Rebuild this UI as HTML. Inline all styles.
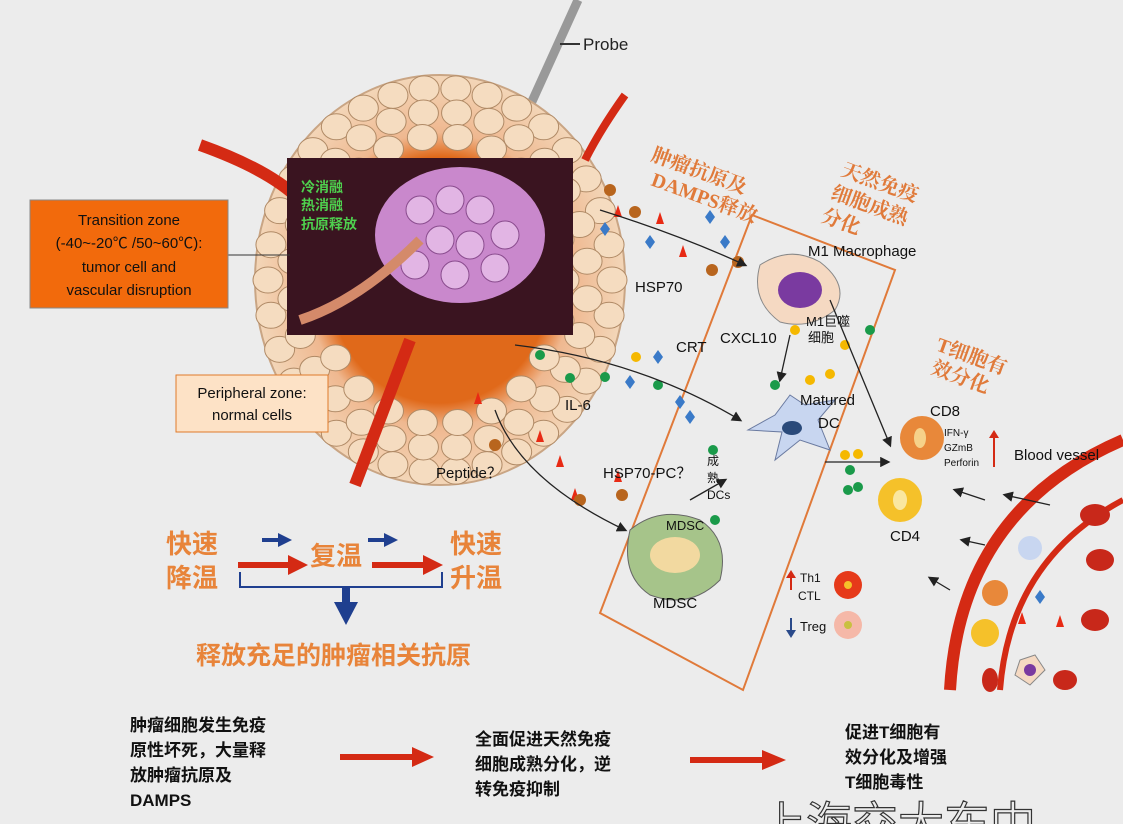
<!DOCTYPE html>
<html><head><meta charset="utf-8"><style>
body{margin:0;background:#ececec;}
svg{display:block;font-family:"Liberation Sans","Noto Sans CJK SC",sans-serif;}
</style></head><body>
<svg id="s" width="1123" height="824" viewBox="0 0 1123 824">
<defs>
<marker id="ah" markerWidth="8" markerHeight="8" refX="6" refY="4" orient="auto"><path d="M0,0L8,4L0,8Z" fill="#222"/></marker>
<radialGradient id="tg" cx="50%" cy="50%" r="50%"><stop offset="0.6" stop-color="#e0691a"/><stop offset="0.72" stop-color="#efb890"/><stop offset="1" stop-color="#f3d6b8"/></radialGradient>
</defs>
<rect width="1123" height="824" fill="#ececec"/>
<line x1="510" y1="150" x2="578" y2="0" stroke="#999" stroke-width="9"/>
<line x1="560" y1="44" x2="580" y2="44" stroke="#333" stroke-width="2"/>
<text x="583" y="50" font-size="17" fill="#222">Probe</text>
<ellipse cx="440" cy="280" rx="185" ry="205" fill="url(#tg)" stroke="#c9a584" stroke-width="2"/>
<g id="cells" fill="#f5dcc0" stroke="#b08a66" stroke-width="1"></g>
<path d="M200,145 Q270,170 300,200" stroke="#d42a14" stroke-width="12" fill="none"/>
<path d="M625,95 Q600,130 585,160" stroke="#d42a14" stroke-width="8" fill="none"/>
<path d="M410,340 Q380,420 355,485" stroke="#d42a14" stroke-width="12" fill="none"/>
<rect x="287" y="158" width="286" height="177" fill="#3a1420"/>
<ellipse cx="460" cy="235" rx="85" ry="68" fill="#c988cc"/>
<g fill="#e2b5e4" stroke="#8a4c8e"><circle cx="420" cy="210" r="14"/><circle cx="450" cy="200" r="14"/><circle cx="480" cy="210" r="14"/><circle cx="505" cy="235" r="14"/><circle cx="470" cy="245" r="14"/><circle cx="440" cy="240" r="14"/><circle cx="415" cy="265" r="14"/><circle cx="455" cy="275" r="14"/><circle cx="495" cy="268" r="14"/></g>
<path d="M300,320 Q360,300 420,240" stroke="#d48a6a" stroke-width="10" fill="none"/>
<text x="301" y="192" font-size="14" fill="#4ed04e" font-weight="bold">冷消融</text>
<text x="301" y="210" font-size="14" fill="#4ed04e" font-weight="bold">热消融</text>
<text x="301" y="229" font-size="14" fill="#4ed04e" font-weight="bold">抗原释放</text>
<line x1="228" y1="255" x2="290" y2="255" stroke="#333"/>
<rect x="30" y="200" width="198" height="108" fill="#f26a0c" stroke="#888"/>
<g font-size="15" fill="#111" text-anchor="middle"><text x="129" y="225">Transition zone</text><text x="129" y="248">(-40~-20℃ /50~60℃):</text><text x="129" y="272">tumor cell and</text><text x="129" y="295">vascular disruption</text></g>
<rect x="176" y="375" width="152" height="57" fill="#fde2c6" stroke="#e07a2a"/>
<g font-size="15" fill="#111" text-anchor="middle"><text x="252" y="398">Peripheral zone:</text><text x="252" y="420">normal cells</text></g>
<polygon points="752,215 895,270 743,690 600,613" fill="none" stroke="#e07a3a" stroke-width="2"/>
<g fill="#e07a3a" font-size="20" font-weight="bold" font-family="Liberation Serif,Noto Serif CJK SC,serif">
<text x="650" y="160" transform="rotate(20 650 160)">肿瘤抗原及</text><text x="650" y="185" transform="rotate(20 650 185)">DAMPS释放</text>
<text x="840" y="175" transform="rotate(20 840 175)">天然免疫</text><text x="830" y="198" transform="rotate(20 830 198)">细胞成熟</text><text x="820" y="221" transform="rotate(20 820 221)">分化</text>
<text x="935" y="350" transform="rotate(20 935 350)">T细胞有</text><text x="930" y="373" transform="rotate(20 930 373)">效分化</text>
</g>
<path d="M760,265 Q790,245 820,262 Q850,285 835,310 Q810,330 780,322 Q750,300 760,265Z" fill="#f5d9c2" stroke="#888"/>
<ellipse cx="800" cy="290" rx="22" ry="18" fill="#7a3aa0"/>
<path d="M790,395 L805,405 L835,400 L818,420 L830,450 L800,440 L775,460 L782,432 L748,430 L775,415Z" fill="#c8d6f0" stroke="#6a7aa0"/>
<ellipse cx="792" cy="428" rx="10" ry="7" fill="#2a4a7a"/>
<path d="M630,530 Q660,505 700,520 Q730,540 720,580 Q690,610 650,595 Q620,575 630,530Z" fill="#a6c48a" stroke="#666"/>
<ellipse cx="675" cy="555" rx="25" ry="18" fill="#f2d9a0"/>
<circle cx="922" cy="438" r="22" fill="#e8883a"/><ellipse cx="920" cy="438" rx="6" ry="10" fill="#f6d28a"/>
<circle cx="900" cy="500" r="22" fill="#f5c12a"/><ellipse cx="900" cy="500" rx="7" ry="10" fill="#fae7a0"/>
<circle cx="848" cy="585" r="14" fill="#e63a1a"/><circle cx="848" cy="585" r="4" fill="#f5c12a"/>
<circle cx="848" cy="625" r="14" fill="#f5b8a8"/><circle cx="848" cy="625" r="4" fill="#c9c040"/>
<path d="M950,690 Q960,510 1123,440" stroke="#d42a14" stroke-width="12" fill="none"/>
<path d="M1000,690 Q1010,560 1123,500" stroke="#d42a14" stroke-width="6" fill="none"/>
<ellipse cx="1095" cy="515" rx="15" ry="11" fill="#c8281a"/><ellipse cx="1100" cy="560" rx="14" ry="11" fill="#c8281a"/><ellipse cx="1095" cy="620" rx="14" ry="11" fill="#c8281a"/><ellipse cx="990" cy="680" rx="8" ry="12" fill="#c8281a"/><ellipse cx="1065" cy="680" rx="12" ry="10" fill="#c8281a"/>
<circle cx="995" cy="593" r="13" fill="#e8883a"/><circle cx="985" cy="633" r="14" fill="#f5c12a"/><circle cx="1030" cy="548" r="12" fill="#c8d6f0"/>
<path d="M1020,660 L1035,655 L1045,670 L1030,685 L1015,675Z" fill="#f5d9c2" stroke="#888"/><circle cx="1030" cy="670" r="6" fill="#7a3aa0"/>
<g fill="#1a9a4a"><circle cx="540" cy="355" r="5"/><circle cx="570" cy="378" r="5"/><circle cx="605" cy="377" r="5"/><circle cx="658" cy="385" r="5"/><circle cx="870" cy="330" r="5"/><circle cx="775" cy="385" r="5"/><circle cx="850" cy="470" r="5"/><circle cx="858" cy="487" r="5"/><circle cx="848" cy="490" r="5"/><circle cx="713" cy="450" r="5"/><circle cx="715" cy="520" r="5"/></g>
<g fill="#f5b800"><circle cx="636" cy="357" r="5"/><circle cx="795" cy="330" r="5"/><circle cx="845" cy="345" r="5"/><circle cx="830" cy="374" r="5"/><circle cx="810" cy="380" r="5"/><circle cx="858" cy="454" r="5"/><circle cx="845" cy="455" r="5"/></g>
<g fill="#3a7ac8"><path d="M605,222l5,7l-5,7l-5,-7z"/><path d="M650,235l5,7l-5,7l-5,-7z"/><path d="M710,210l5,7l-5,7l-5,-7z"/><path d="M725,235l5,7l-5,7l-5,-7z"/><path d="M658,350l5,7l-5,7l-5,-7z"/><path d="M630,375l5,7l-5,7l-5,-7z"/><path d="M680,395l5,7l-5,7l-5,-7z"/><path d="M690,410l5,7l-5,7l-5,-7z"/><path d="M1040,590l5,7l-5,7l-5,-7z"/></g>
<g fill="#e82a14"><path d="M618,205l4,12h-8z"/><path d="M660,212l4,12h-8z"/><path d="M683,245l4,12h-8z"/><path d="M478,392l4,12h-8z"/><path d="M540,430l4,12h-8z"/><path d="M560,455l4,12h-8z"/><path d="M575,488l4,12h-8z"/><path d="M618,470l4,12h-8z"/><path d="M1022,612l4,12h-8z"/><path d="M1060,615l4,12h-8z"/></g>
<g fill="#b8651e"><circle cx="610" cy="190" r="6"/><circle cx="635" cy="212" r="6"/><circle cx="712" cy="270" r="6"/><circle cx="738" cy="262" r="6"/><circle cx="495" cy="445" r="6"/><circle cx="580" cy="500" r="6"/><circle cx="622" cy="495" r="6"/></g>
<g stroke="#222" stroke-width="1.3" fill="none" marker-end="url(#ah)">
<path d="M600,210 Q680,235 745,265"/><path d="M515,345 Q640,360 740,420"/><path d="M495,410 Q520,480 625,530"/>
<path d="M690,500 L725,480"/><path d="M790,335 L780,380"/><path d="M830,300 L890,445"/><path d="M825,462 L888,462"/>
<path d="M985,500 L955,490"/><path d="M1050,505 L1005,495"/><path d="M985,545 L962,540"/><path d="M950,590 L930,578"/>
</g>
<g font-size="15" fill="#111">
<text x="808" y="256">M1 Macrophage</text><text x="635" y="292">HSP70</text><text x="676" y="352">CRT</text><text x="720" y="343">CXCL10</text>
<text x="565" y="410">IL-6</text><text x="800" y="405">Matured</text><text x="818" y="428">DC</text><text x="436" y="478">Peptide？</text><text x="603" y="478">HSP70-PC？</text>
<text x="930" y="416">CD8</text><text x="890" y="541">CD4</text><text x="1014" y="460">Blood vessel</text><text x="653" y="608">MDSC</text>
<text x="800" y="582" font-size="12">Th1</text><text x="798" y="600" font-size="12">CTL</text><text x="800" y="631" font-size="13">Treg</text>
<text x="806" y="326" font-size="13">M1巨噬</text><text x="808" y="342" font-size="13">细胞</text>
<text x="666" y="530" font-size="13">MDSC</text><text x="707" y="465" font-size="12">成</text><text x="707" y="482" font-size="12">熟</text><text x="707" y="499" font-size="12">DCs</text>
<text x="944" y="436" font-size="10">IFN-γ</text><text x="944" y="451" font-size="10">GZmB</text><text x="944" y="466" font-size="10">Perforin</text>
</g>
<path d="M994,467 V432" stroke="#d42a14" stroke-width="2"/><path d="M989,438 L994,430 L999,438Z" fill="#d42a14"/>
<path d="M791,590 V574" stroke="#d42a14" stroke-width="2"/><path d="M786,578 L791,570 L796,578Z" fill="#d42a14"/>
<path d="M791,618 V634" stroke="#2a4a8a" stroke-width="2"/><path d="M786,630 L791,638 L796,630Z" fill="#2a4a8a"/>
<g font-size="26" font-weight="bold" fill="#e8843a">
<text x="166" y="553">快速</text><text x="166" y="587">降温</text><text x="310" y="565">复温</text><text x="450" y="553">快速</text><text x="450" y="587">升温</text>
<text x="196" y="664" font-size="25">释放充足的肿瘤相关抗原</text>
</g>
<path d="M238,565 H290" stroke="#d42a14" stroke-width="6"/><path d="M288,555 L308,565 L288,575Z" fill="#d42a14"/>
<path d="M372,565 H425" stroke="#d42a14" stroke-width="6"/><path d="M423,555 L443,565 L423,575Z" fill="#d42a14"/>
<path d="M262,540 H280" stroke="#1f3f8f" stroke-width="4"/><path d="M278,533 L292,540 L278,547Z" fill="#1f3f8f"/>
<path d="M368,540 H386" stroke="#1f3f8f" stroke-width="4"/><path d="M384,533 L398,540 L384,547Z" fill="#1f3f8f"/>
<path d="M240,572 V587 H442 V572" stroke="#1f3f8f" stroke-width="2" fill="none"/>
<path d="M346,588 V605" stroke="#1f3f8f" stroke-width="8"/><path d="M334,602 L346,625 L358,602Z" fill="#1f3f8f"/>
<g font-size="17" font-weight="bold" fill="#111">
<text x="130" y="731">肿瘤细胞发生免疫</text><text x="130" y="756">原性坏死，大量释</text><text x="130" y="781">放肿瘤抗原及</text><text x="130" y="806">DAMPS</text>
<text x="475" y="745">全面促进天然免疫</text><text x="475" y="770">细胞成熟分化，逆</text><text x="475" y="795">转免疫抑制</text>
<text x="845" y="738">促进T细胞有</text><text x="845" y="763">效分化及增强</text><text x="845" y="788">T细胞毒性</text>
</g>
<path d="M340,757 H415" stroke="#d42a14" stroke-width="6"/><path d="M412,747 L434,757 L412,767Z" fill="#d42a14"/>
<path d="M690,760 H765" stroke="#d42a14" stroke-width="6"/><path d="M762,750 L786,760 L762,770Z" fill="#d42a14"/>
<text x="760" y="840" font-size="46" fill="none" stroke="#333" stroke-width="1.2">上海交大东中</text>
</svg>
<script>
var g=document.getElementById('cells');
for(var ring=0;ring<3;ring++){
  var rx=172-ring*24, ry=192-ring*24, n=34-ring*6;
  for(var i=0;i<n;i++){
    var a=(i+ring*0.5)/n*2*Math.PI;
    var c=document.createElementNS('http://www.w3.org/2000/svg','ellipse');
    c.setAttribute('cx',440+rx*Math.cos(a));
    c.setAttribute('cy',280+ry*Math.sin(a));
    c.setAttribute('rx',15);c.setAttribute('ry',13);
    
    
    g.appendChild(c);
  }
}
</script>
</body></html>
